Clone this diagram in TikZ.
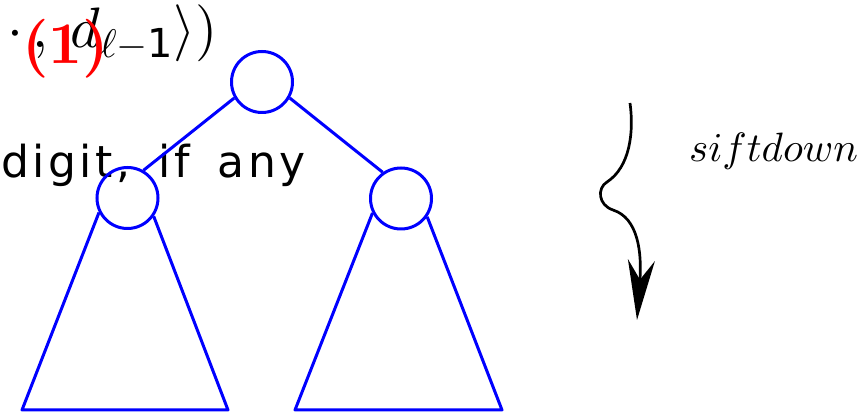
\documentclass[tikz,border=0pt]{standalone}
\usepackage{amsmath}
\usepackage{amssymb}
\usepackage{fontspec}
\setsansfont{DejaVu Sans}
\newfontfamily\digitfont{DejaVu Sans}[LetterSpace=8, WordSpace=1.6]
\usetikzlibrary{arrows.meta}
% 数学字体可任意缩放
\DeclareFontShape{OT1}{cmr}{m}{n}{<->cmr10}{}
\DeclareFontShape{OT1}{cmr}{bx}{n}{<->cmbx10}{}
\DeclareFontShape{OML}{cmm}{m}{it}{<->cmmi10}{}
\DeclareFontShape{OMS}{cmsy}{m}{n}{<->cmsy10}{}
\DeclareFontShape{OMX}{cmex}{m}{n}{<->cmex10}{}
\newcommand{\heavyfont}{\fontencoding{OT1}\fontfamily{cmr}\fontseries{bx}\fontshape{n}}

\begin{document}
\begin{tikzpicture}[x=1pt, y=1pt,
    knot/.style={circle, draw=blue, line width=3pt, minimum size=61pt, inner sep=0pt},
    twig/.style={draw=blue, line width=3pt},
    scrap/.style={inner sep=0pt, anchor=base west}]
  \useasboundingbox (0,0) rectangle (860,412);

  % 截断的文字
  \node[scrap, font=\fontsize{57}{60}\selectfont] (tuple) at (7,364) {$\cdot\,,\: d_{\ell-\mathsf{1}}\rangle)$};
  \node[scrap, font=\fontsize{44}{48}\digitfont] (digit) at (1,234) {digit, if any};
  \node[scrap, font=\heavyfont\fontsize{59}{62}\selectfont, text=red] (num) at (22,348) {(1)};

  % 堆的结点
  \node[knot] (root) at (262,330) {};
  \node[knot] (lc) at (127.5,214) {};
  \node[knot] (rc) at (401,213.5) {};
  \draw[twig] (root.210) -- (lc.60);
  \draw[twig] (root.330) -- (rc.125);

  % 子树（三角形）
  \coordinate (la) at (22,2);
  \coordinate (lb) at (228,2);
  \coordinate (ra) at (295,2);
  \coordinate (rb) at (502,2);
  \draw[twig, line join=round] (lc.207) -- (la) -- (lb) -- (lc.325);
  \draw[twig, line join=round] (rc.207) -- (ra) -- (rb) -- (rc.325);

  % 下沉箭头
  \coordinate (top) at (630,309);
  \coordinate (tip) at (637,92);
  \draw[line width=2.7pt, -{Stealth[length=60pt, width=27pt]}]
    (top) .. controls (634,280) and (630,245) .. (607,230)
    .. controls (597,224) and (598,207) .. (613,202)
    .. controls (638,194) and (642,160) .. (tip);
  \node[scrap, font=\fontsize{41}{44}\selectfont] (sift) at (689,250) {$siftdown$};
\end{tikzpicture}
\end{document}
